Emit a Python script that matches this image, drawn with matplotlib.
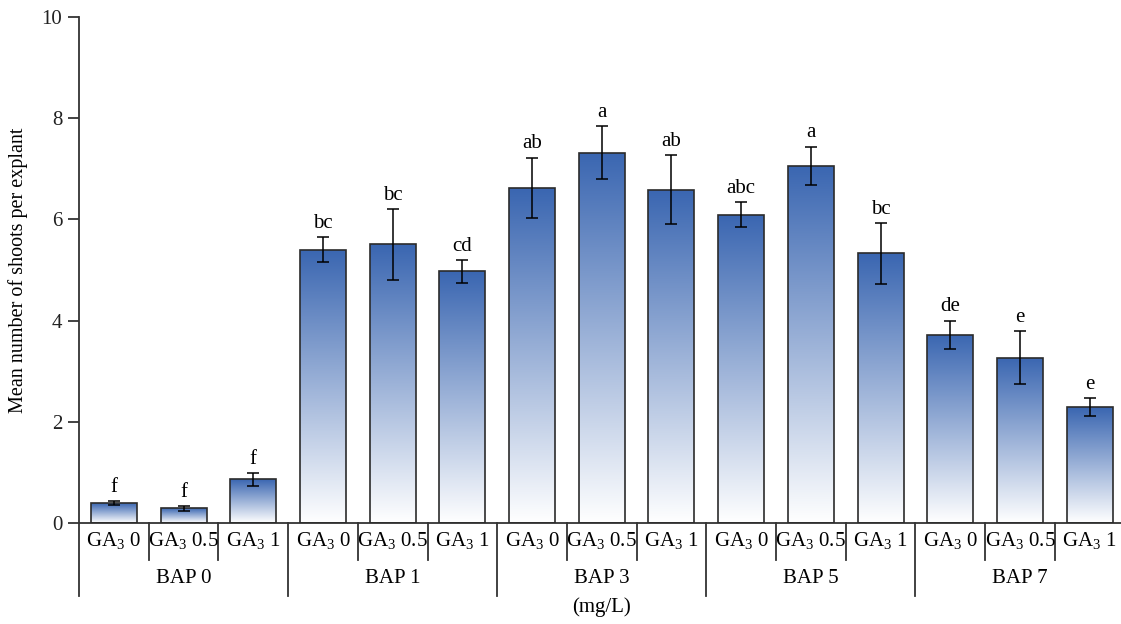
import numpy as np
import matplotlib.pyplot as plt
import matplotlib.transforms as mtransforms
from matplotlib.colors import to_rgb

plt.rcParams['font.family'] = ['Liberation Serif', 'DejaVu Serif']
plt.rcParams['mathtext.fontset'] = 'custom'
plt.rcParams['mathtext.rm'] = 'Liberation Serif'
plt.rcParams['mathtext.it'] = 'Liberation Serif:italic'

# treatments: BAP level (group) x GA3 level
bap_groups = ['BAP 0', 'BAP 1', 'BAP 3', 'BAP 5', 'BAP 7']
ga_labels = [r'GA$_3$ 0', r'GA$_3$ 0.5', r'GA$_3$ 1']

means = [0.39, 0.29, 0.86,
         5.40, 5.51, 4.97,
         6.62, 7.32, 6.59,
         6.09, 7.06, 5.33,
         3.72, 3.27, 2.29]
errs = [0.04, 0.05, 0.12,
        0.25, 0.70, 0.23,
        0.60, 0.52, 0.68,
        0.25, 0.38, 0.60,
        0.28, 0.53, 0.17]
letters = ['f', 'f', 'f',
           'bc', 'bc', 'cd',
           'ab', 'a', 'ab',
           'abc', 'a', 'bc',
           'de', 'e', 'e']

top_color = np.array(to_rgb('#3a66b1'))
white = np.ones(3)

fig = plt.figure(figsize=(11.21, 6.24), dpi=100)
ax = fig.add_axes([0.0705, 0.1619, 0.9295, 0.8109])

x = np.arange(len(means))
width = 0.66

# vertical gradient image (row 0 = top)
t = np.linspace(0, 1, 256)[:, None]
grad = (top_color * (1 - t) + white * t)[:, None, :].reshape(256, 1, 3)

bars = ax.bar(x, means, width=width, color='none', edgecolor='#2b2b2b',
              linewidth=1.2, zorder=3)
for b in bars:
    x0, y0 = b.get_x(), b.get_y()
    w, h = b.get_width(), b.get_height()
    im = ax.imshow(grad, extent=[x0, x0 + w, y0, y0 + h], aspect='auto',
                   origin='upper', zorder=2, interpolation='bilinear')
    im.set_clip_path(b)

ax.errorbar(x, means, yerr=errs, fmt='none', ecolor='black', elinewidth=1.1,
            capsize=4.5, capthick=1.1, zorder=4)

for xi, m, e, lab in zip(x, means, errs, letters):
    ax.annotate(lab, (xi, m + e), xytext=(0, 3), textcoords='offset points',
                ha='center', va='bottom', fontsize=15)

ax.set_xlim(-0.5, 14.45)
ax.set_ylim(0, 10)
ax.set_yticks([0, 2, 4, 6, 8, 10])
ax.tick_params(axis='y', direction='out', length=8, width=1.2, labelsize=15,
               pad=4, colors='#222222')
ax.set_xticks([])
for s in ['top', 'right']:
    ax.spines[s].set_visible(False)
for s in ['left', 'bottom']:
    ax.spines[s].set_linewidth(1.3)
    ax.spines[s].set_color('#333333')

ax.set_ylabel('Mean number of shoots per explant', fontsize=14.5, labelpad=10)

# two-level category axis below the plot
trans = mtransforms.blended_transform_factory(ax.transData, ax.transAxes)
for i, xi in enumerate(x):
    ax.text(xi, -0.034, ga_labels[i % 3], transform=trans, ha='center',
            va='center', fontsize=15)
for k in range(len(means) + 1):
    xs = k - 0.5
    if k % 3 == 0:
        ax.plot([xs, xs], [0, -0.145], transform=trans, color='#333333',
                lw=1.3, clip_on=False)
    else:
        ax.plot([xs, xs], [0, -0.073], transform=trans, color='#333333',
                lw=1.3, clip_on=False)
for g, name in enumerate(bap_groups):
    ax.text(3 * g + 1, -0.109, name, transform=trans, ha='center',
            va='center', fontsize=15)
ax.text(7, -0.166, '(mg/L)', transform=trans, ha='center', va='center',
        fontsize=15)

fig.savefig('out.png', dpi=100)
